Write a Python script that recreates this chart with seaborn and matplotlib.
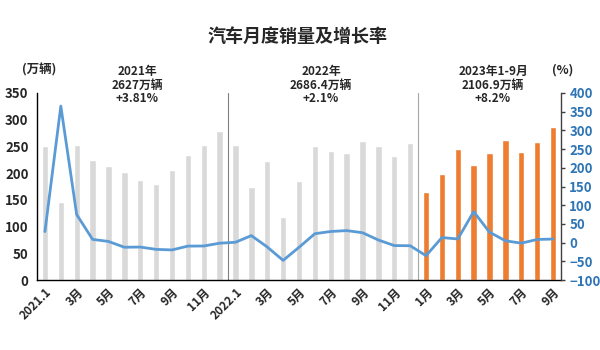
import matplotlib
matplotlib.use("Agg")
import matplotlib.pyplot as plt
import seaborn as sns
import pandas as pd
import numpy as np

# ---- data ----
sales_2021 = [250.3, 145.5, 252.6, 225.2, 212.8, 201.5, 186.4, 179.9, 206.7, 233.2, 252.2, 278.6]
sales_2022 = [253.1, 173.7, 223.4, 118.1, 186.2, 250.2, 242.0, 238.3, 261.0, 250.4, 232.7, 256.0]
sales_2023 = [164.9, 197.6, 245.1, 215.9, 238.2, 262.2, 238.7, 258.2, 285.8]
growth_2021 = [29.5, 364.9, 74.9, 8.6, 3.1, -12.4, -11.9, -18.1, -19.6, -9.4, -9.1, -1.6]
growth_2022 = [0.9, 18.7, -11.7, -47.6, -12.6, 23.8, 29.7, 32.1, 26.4, 6.9, -7.9, -8.4]
growth_2023 = [-35.0, 13.5, 9.7, 82.7, 27.9, 4.8, -1.5, 8.4, 9.5]
tick_labels = ["2021.1", "3月", "5月", "7月", "9月", "11月",
               "2022.1", "3月", "5月", "7月", "9月", "11月",
               "1月", "3月", "5月", "7月", "9月"]
title = "汽车月度销量及增长率"
notes = ["2021年\n2627万辆\n+3.81%", "2022年\n2686.4万辆\n+2.1%", "2023年1-9月\n2106.9万辆\n+8.2%"]

sales = sales_2021 + sales_2022 + sales_2023
growth = growth_2021 + growth_2022 + growth_2023
group = ["past"] * (len(sales_2021) + len(sales_2022)) + ["2023"] * len(sales_2023)
df = pd.DataFrame({"pos": np.arange(len(sales)), "sales": sales, "growth": growth, "group": group})

sns.set_theme(style="white")
plt.rcParams["font.family"] = ["Noto Sans CJK SC", "DejaVu Sans"]
plt.rcParams["font.weight"] = "bold"

fig = plt.figure(figsize=(6, 3.5), dpi=100)
ax = fig.add_axes([37 / 600, 1 - 280 / 350, (561 - 37) / 600, (280 - 93) / 350])

sns.barplot(data=df, x="pos", y="sales", hue="group", dodge=False, width=0.4,
            palette={"past": "#d9d9d9", "2023": "#ed7d31"}, legend=False, ax=ax,
            saturation=1)
ax.set_xlim(-0.5, len(sales) - 0.5)
ax.set_ylim(0, 350)
ax.set_yticks(range(0, 351, 50))
ax.set_xticks(range(0, len(sales), 2))
ax.set_xticklabels(tick_labels, rotation=45, ha="right", rotation_mode="anchor",
                   fontsize=8.5, fontweight="bold")
ax.set_xlabel("")
ax.set_ylabel("")
ax.tick_params(axis="y", length=0, labelsize=9.5, pad=6)
ax.tick_params(axis="x", length=0, pad=4)
for lab in ax.get_yticklabels():
    lab.set_fontweight("bold")
for s in ["top", "right"]:
    ax.spines[s].set_visible(False)
for s in ["left", "bottom"]:
    ax.spines[s].set_color("black")
    ax.spines[s].set_linewidth(1.0)

ax.axvline(11.5, color="#808080", lw=0.8)
ax.axvline(23.5, color="#a6a6a6", lw=0.8)

ax2 = ax.twinx()
sns.lineplot(data=df, x="pos", y="growth", ax=ax2, color="#5b9bd5", lw=2.0)
ax2.set_ylim(-100, 400)
ax2.set_yticks(range(-100, 401, 50))
ax2.set_ylabel("")
ax2.tick_params(axis="y", length=3, width=1, color="#404040", labelsize=9.5,
                labelcolor="#2e75b6", pad=3, right=True)
for lab in ax2.get_yticklabels():
    lab.set_fontweight("bold")
for s in ["top", "left", "bottom"]:
    ax2.spines[s].set_visible(False)
ax2.spines["right"].set_color("#404040")
ax2.spines["right"].set_linewidth(1.0)

fig.text(297 / 600, 1 - 36 / 350, title, ha="center", va="center", fontsize=13, fontweight="bold")
for x, t in zip([137, 321, 493], notes):
    fig.text(x / 600, 1 - 85 / 350, t, ha="center", va="center", fontsize=8.5,
             fontweight="bold", linespacing=1.05)
fig.text(39 / 600, 1 - 70 / 350, "(万辆)", ha="center", va="center", fontsize=9, fontweight="bold")
fig.text(563 / 600, 1 - 70 / 350, "(%)", ha="center", va="center", fontsize=9, fontweight="bold")

fig.savefig("out.png", dpi=100)
